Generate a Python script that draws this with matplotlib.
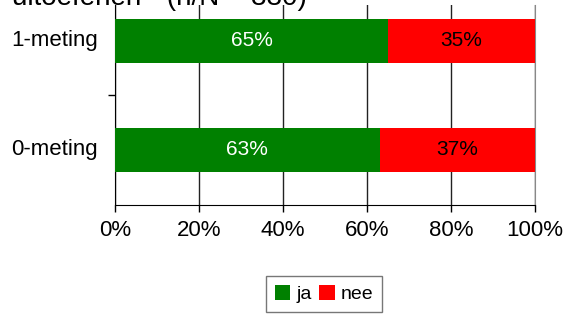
import matplotlib
matplotlib.use("Agg")
import matplotlib.pyplot as plt
from matplotlib.patches import Patch

plt.rcParams['font.family'] = ['Liberation Sans', 'DejaVu Sans']

categories = ["0-meting", "1-meting"]
ja = [63, 65]
nee = [37, 35]
series_names = ["ja", "nee"]
colors = ["#008000", "#FF0000"]
label_colors = ["white", "black"]
xticks = [0, 20, 40, 60, 80, 100]
title = 'uitoefenen"  (n/N = 330)'

fig = plt.figure(figsize=(5.64, 3.14), dpi=100)
ax = fig.add_axes([115/564, 1-205/314, 420/564, 200/314])

ypos = list(range(len(categories)))
h = 0.405
ax.barh(ypos, ja, height=h, color=colors[0], zorder=3)
ax.barh(ypos, nee, left=ja, height=h, color=colors[1], zorder=3)
for i, y in enumerate(ypos):
    ax.text(ja[i] / 2, y, f"{ja[i]}%", ha="center", va="center", color=label_colors[0], fontsize=15, zorder=4)
    ax.text(ja[i] + nee[i] / 2, y, f"{nee[i]}%", ha="center", va="center", color=label_colors[1], fontsize=15, zorder=4)

ax.set_xlim(0, 100)
ax.set_ylim(-0.505, 1.33)
ax.set_xticks(xticks)
ax.set_xticklabels([f"{v}%" for v in xticks], fontsize=16)
ax.tick_params(axis='x', direction='out', length=5, width=1, color='black', pad=6)
ax.set_yticks([0.5])
ax.set_yticklabels([""])
ax.tick_params(axis='y', direction='out', length=5, width=1, color='black')
for i, y in enumerate(ypos):
    ax.text(-0.04, y, categories[i], transform=ax.get_yaxis_transform(), ha='right', va='center', fontsize=16)

ax.xaxis.grid(True, color='#222222', linewidth=1, zorder=0)
ax.set_axisbelow(True)
ax.spines['top'].set_visible(False)
ax.spines['right'].set_color('#888888')
ax.spines['left'].set_color('black')
ax.spines['bottom'].set_color('black')

fig.text(12/564, 1 - 5/314, title, ha='left', va='baseline', fontsize=20)

handles = [Patch(facecolor=colors[0], edgecolor='none'), Patch(facecolor=colors[1], edgecolor='none')]
leg = fig.legend(handles, series_names, loc='center', bbox_to_anchor=(324/564, 1-294/314), ncol=2,
                 fontsize=14, frameon=True, fancybox=False, edgecolor='#555555',
                 handlelength=0.8, handleheight=0.8, handletextpad=0.3, columnspacing=0.4,
                 borderpad=0.45)
leg.get_frame().set_linewidth(1)

fig.savefig("out.png", dpi=100)
